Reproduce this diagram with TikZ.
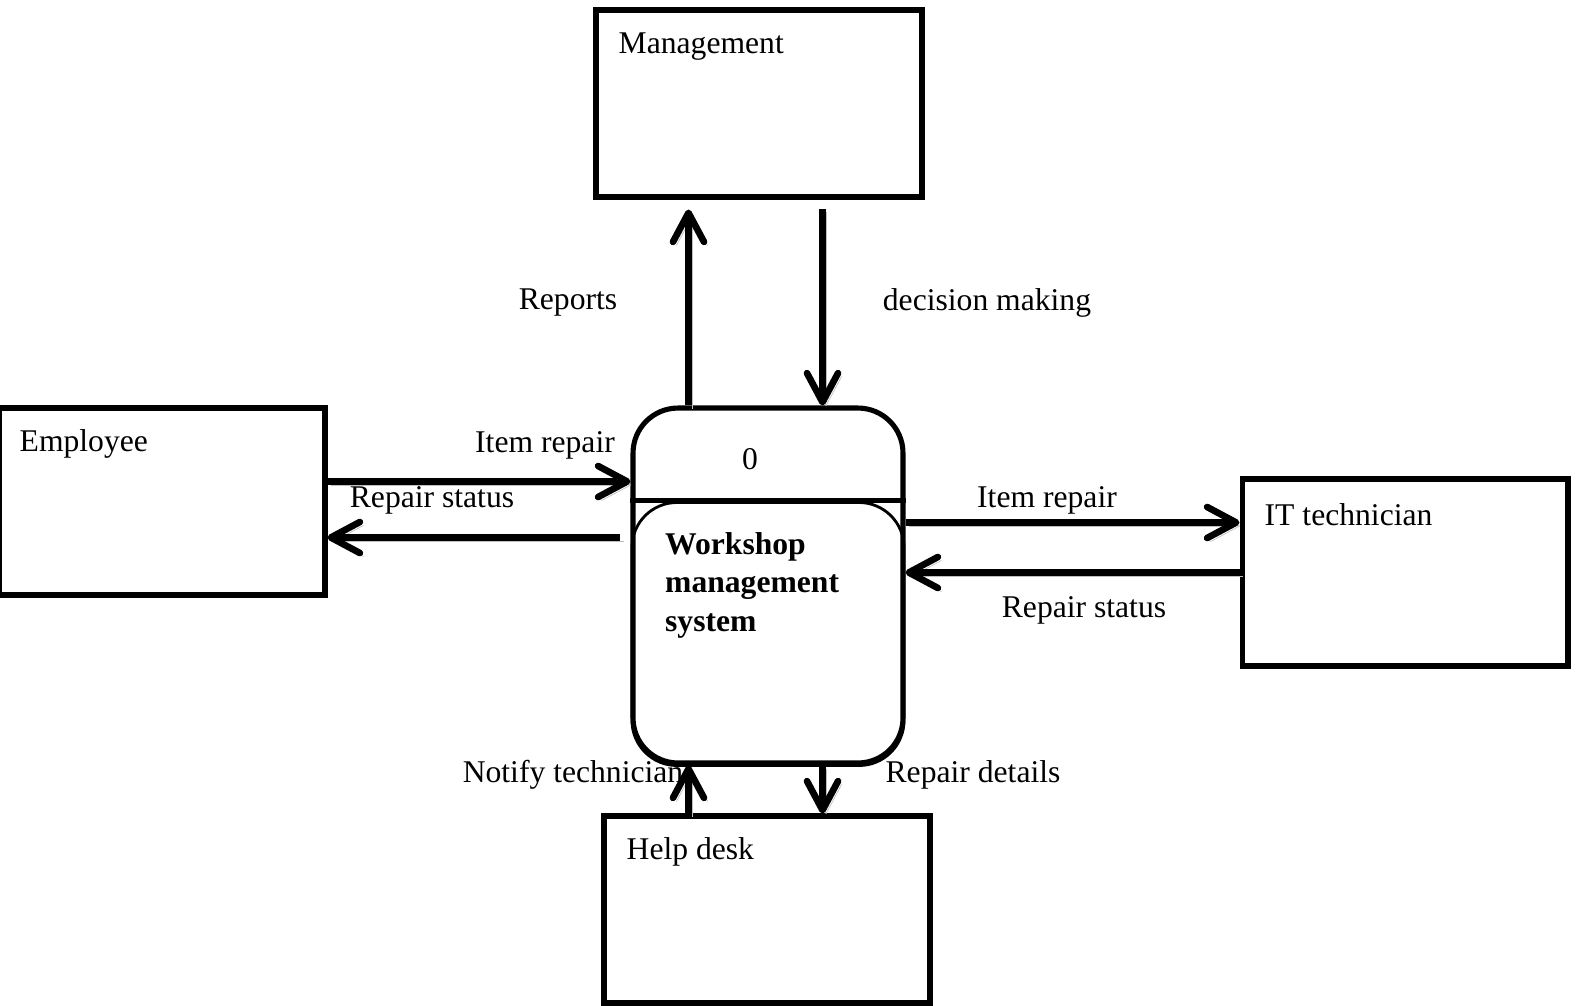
\documentclass[tikz,border=0pt]{standalone}
\usepackage{fontspec}
\setmainfont{Liberation Serif}
\usepackage{tikz}
\usetikzlibrary{arrows.meta}
\usetikzlibrary{positioning}
\tikzset{>={Straight Barb[length=0.58cm,width=0.62cm,round]}}

\begin{document}
\begin{tikzpicture}[
				x=0.02cm, y=-0.02cm,
				font=\fontsize{18}{21.5}\selectfont,
				entity/.style = {
					rectangle, draw,
					line width=2.9pt,
					minimum width=6.52cm,
					minimum height=3.74cm
				},
				process/.style = {
					rectangle, draw,
					line width=2.9pt,
					rounded corners=0.9cm,
					minimum width=5.4cm,
					minimum height=7.1cm
				},
				flow/.style = {
					->, line width=3.8pt,
					preaction={draw=gray!50,
						transform canvas={shift={(0.07cm,-0.07cm)}}}
				}
			]
				\useasboundingbox (0,0) rectangle (1578,1005);
				\node[entity] (mgmt) at (759,103.5) {};
				\node[entity] (emp) at (162,501.5) {};
				\node[entity] (it) at (1405,572.5) {};
				\node[entity] (help) at (767,909.5) {};
				\node[process] (proc) at (768,585.5) {};
				% titles of the boxes
				\node[anchor=west] (mgmttxt) at ([shift={(19,39)}]mgmt.north west) {Management};
				\node[anchor=west] (emptxt) at ([shift={(17,38)}]emp.north west) {Employee};
				\node[anchor=west] (ittxt) at ([shift={(19,38)}]it.north west) {IT technician};
				\node[anchor=west] (helptxt) at ([shift={(19,38)}]help.north west) {Help desk};
				% the process
				\draw[line width=2.9pt] ([shift={(0,95)}]proc.north west) -- ([shift={(0,95)}]proc.north east);
				\draw[line width=1.6pt, rounded corners=0.9cm] ([shift={(1.5,0)}]proc.south west)
					rectangle ([shift={(-1.5,97)}]proc.north east);
				\node (procid) at ([shift={(-18,54)}]proc.north) {0};
				\node[anchor=north west, align=left, font=\fontsize{18}{21.8}\selectfont\bfseries]
					(proctxt) at ([shift={(28.5,121)}]proc.north west)
					{Workshop\\management\\system};
				% flows
				\coordinate (repx) at ([shift={(58,0)}]proc.north west);
				\coordinate (decx) at ([shift={(-83,0)}]proc.north east);
				\coordinate (eirep) at ([shift={(0,-20)}]emp.east);
				\coordinate (erstat) at ([shift={(0,36)}]emp.east);
				\coordinate (iirep) at ([shift={(0,-50)}]it.west);
				\draw[flow, shorten >=0.2cm] (repx) -- (repx |- mgmt.south);
				\draw[flow, shorten <=0.18cm] (decx |- mgmt.south) -- (decx);
				\draw[flow] (eirep) -- (eirep -| proc.west);
				\draw[flow, shorten <=0.2cm] (erstat -| proc.west) -- (erstat);
				\draw[flow] (iirep -| proc.east) -- (iirep);
				\draw[flow] (it.west) -- (it.west -| proc.east);
				\draw[flow] (repx |- help.north) -- (repx |- proc.south);
				\draw[flow] (decx |- proc.south) -- (decx |- help.north);
				% flow labels
				\node (reports) at (568,303) {Reports};
				\node (decision) at (987,303) {decision making};
				\node (eitem) at (545,445) {Item repair};
				\node (estatus) at (432,500) {Repair status};
				\node (iitem) at (1047,500) {Item repair};
				\node (istatus) at (1084,610) {Repair status};
				\node (notify) at (573,775) {Notify technician};
				\node (details) at (973,775) {Repair details};
			\end{tikzpicture}
\end{document}
